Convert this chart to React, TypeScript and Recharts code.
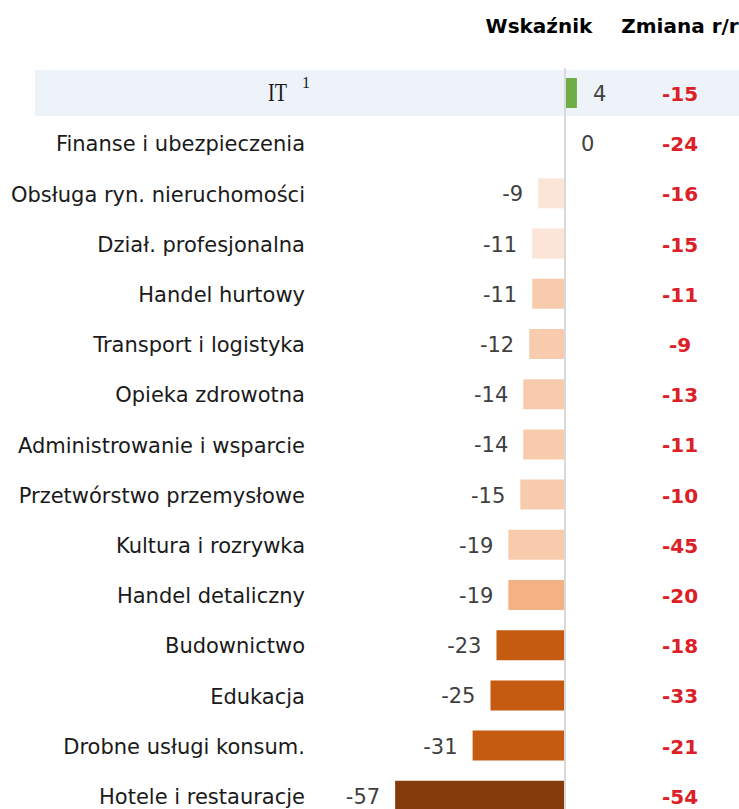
import {
  Bar,
  BarChart,
  Cell,
  LabelList,
  ReferenceArea,
  ReferenceLine,
  XAxis,
  YAxis,
} from 'recharts'

const categories = [
  'IT',
  'Finanse i ubezpieczenia',
  'Obsługa ryn. nieruchomości',
  'Dział. profesjonalna',
  'Handel hurtowy',
  'Transport i logistyka',
  'Opieka zdrowotna',
  'Administrowanie i wsparcie',
  'Przetwórstwo przemysłowe',
  'Kultura i rozrywka',
  'Handel detaliczny',
  'Budownictwo',
  'Edukacja',
  'Drobne usługi konsum.',
  'Hotele i restauracje',
]
const values = [4, 0, -9, -11, -11, -12, -14, -14, -15, -19, -19, -23, -25, -31, -57]
const changes = [-15, -24, -16, -15, -11, -9, -13, -11, -10, -45, -20, -18, -33, -21, -54]
const barColors = [
  '#70ad47',
  '#fbe5d6',
  '#fbe5d6',
  '#fbe5d6',
  '#f8cbad',
  '#f8cbad',
  '#f8cbad',
  '#f8cbad',
  '#f8cbad',
  '#f8cbad',
  '#f4b183',
  '#c55a11',
  '#c55a11',
  '#c55a11',
  '#843c0c',
]
const highlightedCategory = 'IT'
const footnotes: Record<string, string> = { IT: '1' }
const headers = ['Wskaźnik', 'Zmiana r/r']

const chartData = categories.map((name, i) => ({
  name,
  value: values[i],
  change: changes[i],
}))

const FONT = '"DejaVu Sans", Verdana, sans-serif'

function CategoryTick({ y, payload }: any) {
  const name = payload.value as string
  const note = footnotes[name]
  if (note) {
    return (
      <text
        x={268}
        y={y}
        dy={8}
        textAnchor="start"
        fontFamily='"Liberation Serif", serif'
        fontSize={25}
        fill="#1a1a1a"
      >
        <tspan textLength={19} lengthAdjust="spacingAndGlyphs">
          {name}
        </tspan>
        <tspan x={302} dy={-13} fontSize={16}>
          {note}
        </tspan>
      </text>
    )
  }
  return (
    <text
      x={305}
      y={y}
      dy={8}
      textAnchor="end"
      fontFamily={FONT}
      fontSize={21}
      fill="#1a1a1a"
    >
      {name}
    </text>
  )
}

function ValueLabel(props: any) {
  const { x, y, width, height, value } = props
  const left = Math.min(x, x + width)
  const right = Math.max(x, x + width)
  const neg = value < 0
  return (
    <text
      x={neg ? left - 15 : right + 16}
      y={y + height / 2}
      dy={8}
      textAnchor={neg ? 'end' : 'start'}
      fontFamily={FONT}
      fontSize={21}
      fill="#404040"
    >
      {value}
    </text>
  )
}

function ChangeLabel(props: any) {
  const { y, height, value } = props
  return (
    <text
      x={680}
      y={y + height / 2}
      dy={8}
      textAnchor="middle"
      fontFamily={FONT}
      fontSize={20}
      fontWeight={700}
      fill="#dc2027"
    >
      {value}
    </text>
  )
}

export default function App() {
  return (
    <div
      style={{
        position: 'absolute',
        left: 0,
        top: 0,
        width: 739,
        height: 809,
        overflow: 'hidden',
        background: '#fff',
        fontFamily: FONT,
      }}
    >
      <div
        style={{
          position: 'absolute',
          top: 16,
          left: 479,
          width: 120,
          textAlign: 'center',
          fontWeight: 700,
          fontSize: 20,
          lineHeight: '20px',
          color: '#000',
        }}
      >
        {headers[0]}
      </div>
      <div
        style={{
          position: 'absolute',
          top: 16,
          left: 615,
          width: 130,
          textAlign: 'center',
          fontWeight: 700,
          fontSize: 20,
          lineHeight: '20px',
          color: '#000',
          whiteSpace: 'nowrap',
        }}
      >
        {headers[1]}
      </div>
      <BarChart
        layout="vertical"
        width={739}
        height={830}
        data={chartData}
        margin={{ top: 68, right: 0, bottom: 9, left: 0 }}
      >
        <XAxis type="number" domain={[-177.85, 58.39]} hide allowDataOverflow />
        <YAxis
          type="category"
          dataKey="name"
          width={35}
          axisLine={false}
          tickLine={false}
          interval={0}
          tick={<CategoryTick />}
        />
        <ReferenceArea
          y1={highlightedCategory}
          y2={highlightedCategory}
          fill="#eef3fa"
          fillOpacity={1}
          stroke="none"
          shape={(p: any) => (
            <rect
              x={p.x}
              y={p.y + 2}
              width={p.width}
              height={p.height - 4}
              fill="#eef3fa"
            />
          )}
        />
        <ReferenceLine x={0} stroke="#d9d9d9" strokeWidth={2} />
        <Bar
          dataKey="value"
          barSize={30}
          minPointSize={(v: number) => (v === 0 ? 0.01 : 0)}
          isAnimationActive={false}
        >
          {chartData.map((d, i) => (
            <Cell key={d.name} fill={d.value === 0 ? 'none' : barColors[i]} />
          ))}
          <LabelList dataKey="value" content={ValueLabel} />
          <LabelList dataKey="change" content={ChangeLabel} />
        </Bar>
      </BarChart>
    </div>
  )
}
